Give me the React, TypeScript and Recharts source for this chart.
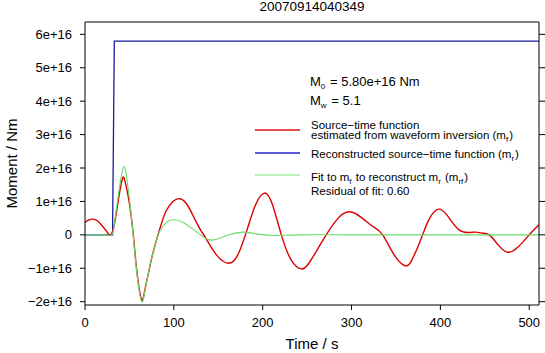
import { LineChart, Line, XAxis, YAxis, Customized } from "recharts";

// time (s) and moment (x 1e16 Nm)
const redT = [0, 4, 9, 14, 20, 25, 29, 33, 37, 42, 45, 49, 54, 58, 63.5, 67, 71, 75, 80, 85, 91, 99, 107, 115, 123, 130, 136, 148, 161, 172, 183, 192, 202, 211, 221, 232, 243.5, 252, 262, 271.5, 285, 298, 312, 324, 335, 348, 361, 368, 374, 380, 388, 399, 410, 421, 432, 440, 447, 455, 465, 476, 488, 500, 511];
const redV = [0.37, 0.44, 0.47, 0.42, 0.25, 0.08, 0, 0.3, 0.95, 1.67, 1.6, 1.1, 0.1, -1.0, -1.92, -1.7, -1.2, -0.7, -0.2, 0.25, 0.7, 1.0, 1.08, 0.9, 0.5, 0.15, -0.1, -0.6, -0.85, -0.6, 0.2, 0.9, 1.25, 0.9, 0, -0.75, -1.02, -0.85, -0.42, 0, 0.5, 0.69, 0.5, 0.25, 0, -0.6, -0.93, -0.75, -0.4, 0, 0.5, 0.77, 0.5, 0.15, 0.07, 0.08, 0.05, 0, -0.3, -0.52, -0.35, 0, 0.3];

const blueT = [0, 31, 33, 511];
const blueV = [0, 0, 5.8, 5.8];

const greenT = [0, 20, 30, 33, 37, 43, 47, 52, 57, 63, 67, 71, 75, 80, 85, 92, 100, 110, 120, 130, 140, 150, 162, 178, 195, 215, 240, 300, 400, 511];
const greenV = [0, 0, 0, 0.3, 1.1, 2.0, 1.7, 0.6, -0.8, -1.95, -1.75, -1.2, -0.7, -0.2, 0.15, 0.38, 0.45, 0.38, 0.2, 0, -0.15, -0.12, 0, 0.08, 0.02, -0.02, 0, 0, 0, 0];

const xTicks = [0, 100, 200, 300, 400, 500];
const yTicks = [-2, -1, 0, 1, 2, 3, 4, 5, 6].map((v) => v * 1e16);

const toRows = (t: number[], v: number[]) => t.map((x, i) => ({ t: x, m: v[i] * 1e16 }));

const FONT = "Liberation Sans, Arial, sans-serif";

const fmtY = (v: number) => {
  if (v === 0) return "0";
  const n = Math.round(Math.abs(v) / 1e16);
  return (v < 0 ? "\u2212" : "") + n + "e+16";
};

function Sub({ s }: { s: string }) {
  return (
    <>
      <tspan dy={3} fontSize={8}>{s}</tspan>
      <tspan dy={-3}>{"\u200a"}</tspan>
    </>
  );
}

function Notes() {
  const tx = 311;
  return (
    <g fontFamily={FONT} fill="#000">
      <text x={312} y={11} fontSize={13.5} textAnchor="middle">20070914040349</text>
      <text x={312} y={349} fontSize={15} textAnchor="middle">Time / s</text>
      <text x={17} y={163.5} fontSize={15} textAnchor="middle" transform="rotate(-90 17 163.5)">
        Moment / Nm
      </text>

      <text x={310} y={86} fontSize={13}>
        M<Sub s="0" /> = 5.80e+16 Nm
      </text>
      <text x={310} y={105} fontSize={13}>
        M<Sub s="w" /> = 5.1
      </text>

      <line x1={255} x2={300} y1={130} y2={130} stroke="#dd1111" strokeWidth={1.3} />
      <text x={tx} y={128.5} fontSize={11.5}>{"Source\u2212time function"}</text>
      <text x={tx} y={139} fontSize={11.5}>
        estimated from waveform inversion (m<Sub s="f" />)
      </text>

      <line x1={255} x2={300} y1={153} y2={153} stroke="#2222cc" strokeWidth={1.3} />
      <text x={tx} y={158} fontSize={11.5}>
        {"Reconstructed source\u2212time function (m"}<Sub s="r" />)
      </text>

      <line x1={255} x2={300} y1={175} y2={175} stroke="#77e077" strokeWidth={1.1} />
      <text x={tx} y={181} fontSize={11.5}>
        Fit to m<Sub s="f" /> to reconstruct m<Sub s="r" /> (m<Sub s="rf" />)
      </text>
      <text x={tx} y={195} fontSize={11.5}>Residual of fit: 0.60</text>
    </g>
  );
}

export default function App() {
  return (
    <div style={{ position: "absolute", left: 0, top: 0, background: "#fff" }}>
      <LineChart width={545} height={353} margin={{ top: 0, right: 0, bottom: 0, left: 0 }}>
        <XAxis
          xAxisId="b"
          dataKey="t"
          type="number"
          domain={[0, 511]}
          ticks={xTicks}
          allowDataOverflow
          height={48}
          tickSize={5}
          tickMargin={8}
          stroke="#000"
          tick={{ fill: "#000", fontSize: 13, fontFamily: FONT }}
        />
        <XAxis
          xAxisId="t"
          orientation="top"
          type="number"
          domain={[0, 511]}
          ticks={xTicks}
          allowDataOverflow
          height={22}
          tickSize={6}
          tickFormatter={() => ""}
          stroke="#000"
        />
        <YAxis
          yAxisId="l"
          type="number"
          domain={[-2.1e16, 6.37e16]}
          ticks={yTicks}
          allowDataOverflow
          width={85}
          tickSize={5}
          tickMargin={8}
          tickFormatter={fmtY}
          stroke="#000"
          tick={{ fill: "#000", fontSize: 13, fontFamily: FONT }}
        />
        <YAxis
          yAxisId="r"
          orientation="right"
          type="number"
          domain={[-2.1e16, 6.37e16]}
          ticks={yTicks}
          allowDataOverflow
          width={6}
          tickSize={6}
          tickFormatter={() => ""}
          stroke="#000"
        />
        <Line
          xAxisId="b"
          yAxisId="l"
          data={toRows(blueT, blueV)}
          dataKey="m"
          type="linear"
          stroke="#1a1aa0"
          strokeWidth={1.3}
          dot={false}
          isAnimationActive={false}
        />
        <Line
          xAxisId="b"
          yAxisId="l"
          data={toRows(redT, redV)}
          dataKey="m"
          type="natural"
          stroke="#dd0000"
          strokeWidth={1.4}
          dot={false}
          isAnimationActive={false}
        />
        <Line
          xAxisId="b"
          yAxisId="l"
          data={toRows(greenT, greenV)}
          dataKey="m"
          type="natural"
          stroke="#66dd66"
          strokeWidth={1.1}
          dot={false}
          isAnimationActive={false}
        />
        <Customized component={Notes} />
      </LineChart>
    </div>
  );
}
